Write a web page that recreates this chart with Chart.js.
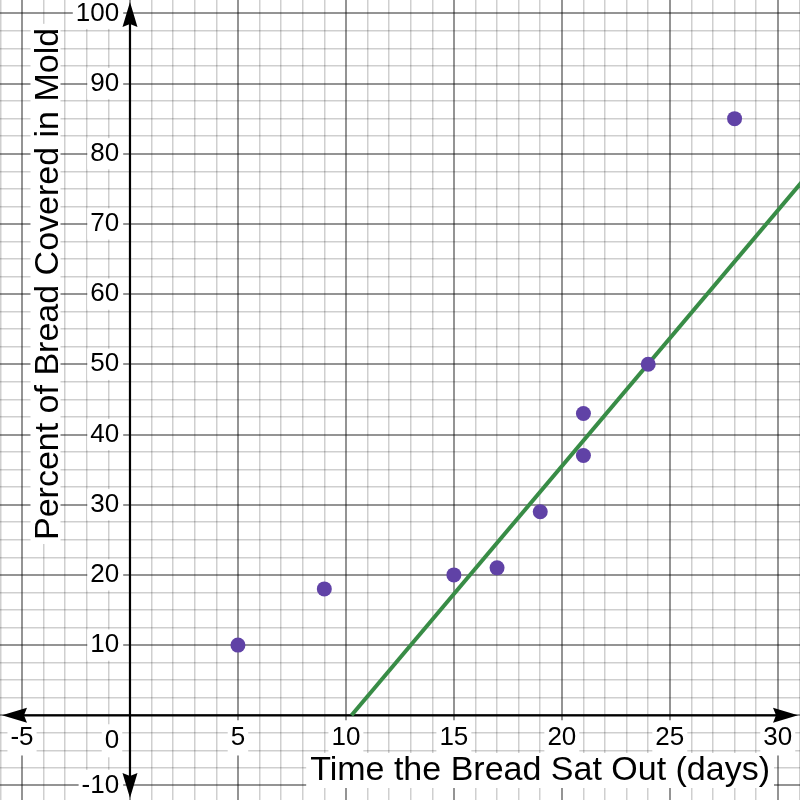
<!DOCTYPE html>
<html>
<head>
<meta charset="utf-8">
<script src="https://cdn.jsdelivr.net/npm/chart.js@4.4.0/dist/chart.umd.min.js"></script>
<style>
html, body { margin: 0; padding: 0; background: #ffffff; }
#wrap { width: 800px; height: 800px; }
</style>
</head>
<body>
<div id="wrap"><canvas id="c" width="800" height="800"></canvas></div>
<script>
// ---- data ----
const timeDays = [5, 9, 15, 17, 19, 21, 21, 24, 28];
const moldPercent = [10, 18, 20, 21, 29, 43, 37, 50, 85];
const trendDays = [10.26, 32];
const trendPercent = [0, 79.2];
const xTickValues = [-5, 5, 10, 15, 20, 25, 30];
const xTickLabels = ['-5', '5', '10', '15', '20', '25', '30'];
const yTickValues = [-10, 10, 20, 30, 40, 50, 60, 70, 80, 90, 100];
const yTickLabels = ['-10', '10', '20', '30', '40', '50', '60', '70', '80', '90', '100'];
const originLabel = '0';
const xTitle = 'Time the Bread Sat Out (days)';
const yTitle = 'Percent of Bread Covered in Mold';

const FONT = "'Liberation Sans', Arial, sans-serif";
Chart.defaults.font.family = FONT;

const MAJOR = 'rgba(0,0,0,0.42)';
const MINOR = 'rgba(0,0,0,0.19)';

function findLabel(values, labels, v) {
  const i = values.findIndex(t => Math.abs(t - v) < 1e-6);
  return i >= 0 ? labels[i] : '';
}
function isMult(v, m) {
  const r = Math.abs(v / m - Math.round(v / m));
  return r < 1e-6;
}
function zeroPad(s) { s.paddingLeft = 0; s.paddingRight = 0; s.paddingTop = 0; s.paddingBottom = 0; }

function boxedText(ctx, text, x, y, align, padL, padR, up, down) {
  const w = ctx.measureText(text).width;
  let left = x;
  if (align === 'center') left = x - w / 2;
  else if (align === 'right') left = x - w;
  ctx.fillStyle = '#ffffff';
  ctx.fillRect(left - padL, y - up, w + padL + padR, up + down);
  ctx.fillStyle = '#000000';
  ctx.textAlign = align;
  ctx.textBaseline = 'alphabetic';
  ctx.fillText(text, x, y);
}

const overlay = {
  id: 'desmosOverlay',
  beforeDatasetsDraw(chart) {
    const { ctx, chartArea: a, scales } = chart;
    const xs = scales.x, ys = scales.y;
    const ox = xs.getPixelForValue(0);
    const oy = ys.getPixelForValue(0);
    ctx.save();
    // axis lines
    ctx.strokeStyle = '#000000';
    ctx.lineWidth = 2.2;
    ctx.beginPath();
    ctx.moveTo(a.left + 12, oy); ctx.lineTo(a.right - 12, oy);
    ctx.moveTo(ox, a.top + 12); ctx.lineTo(ox, a.bottom - 12);
    ctx.stroke();
    // arrow heads
    ctx.fillStyle = '#000000';
    const arrow = (tx, ty, dx, dy) => {
      const L = 25, W = 7.5, N = 3;
      const bx = tx - dx * L, by = ty - dy * L;
      const px = -dy, py = dx;
      ctx.beginPath();
      ctx.moveTo(tx, ty);
      ctx.lineTo(bx + px * W, by + py * W);
      ctx.lineTo(tx - dx * (L - N), ty - dy * (L - N));
      ctx.lineTo(bx - px * W, by - py * W);
      ctx.closePath();
      ctx.fill();
    };
    arrow(a.left + 2, oy, -1, 0);
    arrow(a.right - 2, oy, 1, 0);
    arrow(ox, a.top + 2, 0, -1);
    arrow(ox, a.bottom - 2, 0, 1);

    // origin label
    ctx.font = '26px ' + FONT;
    boxedText(ctx, originLabel, ox - 18, oy + 33, 'center', 3, 3, 24, 9);

    // x title
    ctx.font = '34px ' + FONT;
    boxedText(ctx, xTitle, a.right - 30, a.bottom - 20, 'right', 4, 4, 27, 8);

    // y title (rotated)
    ctx.save();
    ctx.translate(a.left + 57.5, a.top + 540);
    ctx.rotate(-Math.PI / 2);
    boxedText(ctx, yTitle, 0, 0, 'left', 4, 4, 27, 3);
    ctx.restore();

    ctx.restore();
  }
};

const ctx = document.getElementById('c').getContext('2d');
new Chart(ctx, {
  type: 'scatter',
  data: {
    datasets: [
      {
        label: 'Observations',
        data: timeDays.map((d, i) => ({ x: d, y: moldPercent[i] })),
        backgroundColor: '#6042a6',
        borderWidth: 0,
        pointRadius: 7.5,
        pointHoverRadius: 7.5
      },
      {
        type: 'line',
        label: 'Trend',
        data: trendDays.map((d, i) => ({ x: d, y: trendPercent[i] })),
        borderColor: '#388c46',
        borderWidth: 4,
        pointRadius: 0,
        fill: false,
        showLine: true
      }
    ]
  },
  options: {
    responsive: false,
    animation: false,
    events: [],
    layout: { padding: 0, autoPadding: false },
    plugins: { legend: { display: false }, tooltip: { enabled: false } },
    scales: {
      x: {
        type: 'linear',
        min: -6.02,
        max: 31.03,
        position: { y: 0 },
        afterFit: zeroPad,
        border: { display: false },
        grid: {
          drawTicks: false,
          color: (c) => (c.tick && isMult(c.tick.value, 5)) ? MAJOR : MINOR,
          lineWidth: (c) => (c.tick && isMult(c.tick.value, 5)) ? 2 : 1.5
        },
        ticks: {
          stepSize: 1,
          includeBounds: false,
          autoSkip: false,
          maxRotation: 0,
          minRotation: 0,
          padding: 7,
          color: '#000000',
          font: { size: 26, lineHeight: 1.2 },
          showLabelBackdrop: true,
          backdropPadding: { left: 3, right: 3, top: 2, bottom: 2 },
          backdropColor: (c) => (c.tick && c.tick.label) ? '#ffffff' : 'rgba(0,0,0,0)',
          callback: (v) => findLabel(xTickValues, xTickLabels, v)
        }
      },
      y: {
        type: 'linear',
        min: -12.07,
        max: 101.9,
        position: { x: -0.5 },
        afterFit: zeroPad,
        border: { display: false },
        grid: {
          drawTicks: false,
          color: (c) => (c.tick && isMult(c.tick.value, 10)) ? MAJOR : MINOR,
          lineWidth: (c) => (c.tick && isMult(c.tick.value, 10)) ? 2 : 1.5
        },
        ticks: {
          stepSize: 2.5,
          includeBounds: false,
          autoSkip: false,
          padding: 0,
          color: '#000000',
          font: { size: 26, lineHeight: 1.2 },
          showLabelBackdrop: true,
          backdropPadding: { left: 3, right: 4, top: 0, bottom: 0 },
          backdropColor: (c) => (c.tick && c.tick.label) ? '#ffffff' : 'rgba(0,0,0,0)',
          callback: (v) => findLabel(yTickValues, yTickLabels, v)
        }
      }
    }
  },
  plugins: [overlay]
});
</script>
</body>
</html>
